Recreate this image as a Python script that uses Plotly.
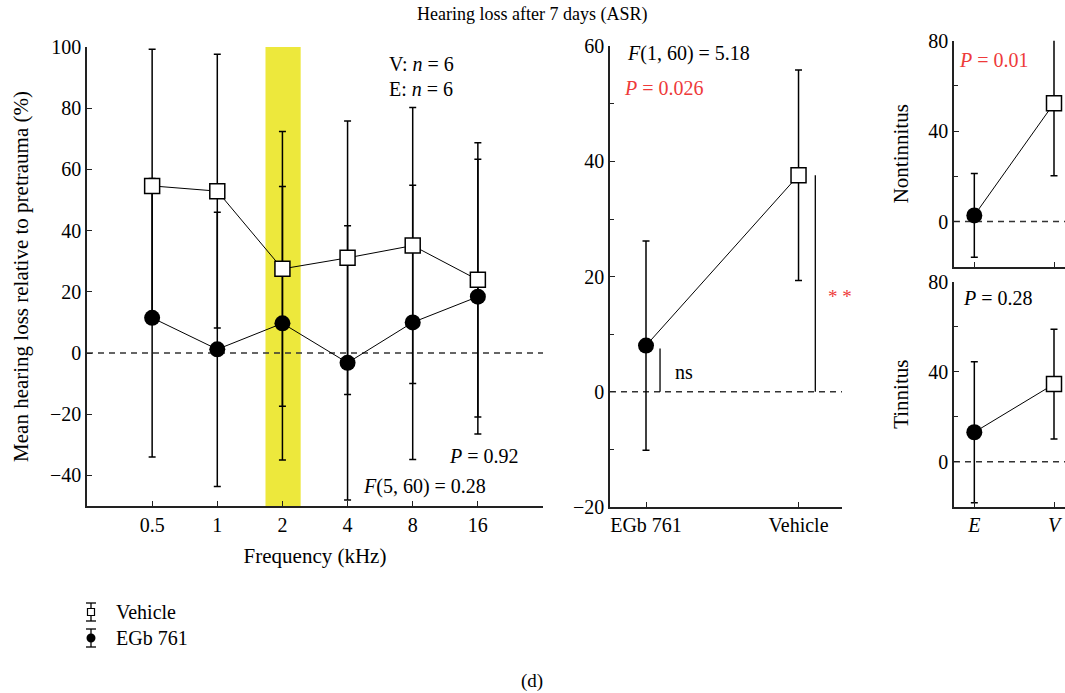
import plotly.graph_objects as go

# ---------------- data ----------------
freq_labels = ["0.5", "1", "2", "4", "8", "16"]
veh_mean = [54.6, 52.9, 27.5, 31.1, 35.1, 23.9]
veh_err = [44.7, 44.7, 44.9, 44.7, 45.1, 44.8]
egb_mean = [11.5, 1.2, 9.7, -3.2, 10.0, 18.4]
egb_err = [45.5, 44.8, 44.7, 44.8, 44.8, 44.9]

groups = ["EGb 761", "Vehicle"]
grp_mean = [8.0, 37.6]
grp_err = [18.2, 18.3]

short_groups = ["E", "V"]
nontin_mean = [2.7, 52.3]
nontin_err = [18.5, 32.1]
tin_mean = [13.1, 34.5]
tin_err = [31.3, 24.4]

W, H = 1065, 693
FONT = "Liberation Serif"
FS = 20
RED = "#ee3a3a"


def px(x):
    return x / W


def py(y):
    return 1 - y / H


sq_marker = dict(symbol="square", size=15, color="white", line=dict(color="black", width=1.5))
ci_marker = dict(symbol="circle", size=16, color="black", line=dict(color="black", width=0))
eb = lambda arr: dict(type="data", array=arr, thickness=1.5, width=3.5, color="black")
ln = dict(color="black", width=1)

fig = go.Figure()

# Left panel
fig.add_trace(go.Scatter(x=freq_labels, y=egb_mean, error_y=eb(egb_err), mode="lines+markers",
                         marker=ci_marker, line=ln, xaxis="x", yaxis="y", showlegend=False))
fig.add_trace(go.Scatter(x=freq_labels, y=veh_mean, error_y=eb(veh_err), mode="lines+markers",
                         marker=sq_marker, line=ln, xaxis="x", yaxis="y", showlegend=False))

# Middle panel
fig.add_trace(go.Scatter(x=groups, y=grp_mean, mode="lines", line=ln, xaxis="x2", yaxis="y2", showlegend=False))
fig.add_trace(go.Scatter(x=groups[:1], y=grp_mean[:1], error_y=eb(grp_err[:1]), mode="markers",
                         marker=ci_marker, xaxis="x2", yaxis="y2", showlegend=False))
fig.add_trace(go.Scatter(x=groups[1:], y=grp_mean[1:], error_y=eb(grp_err[1:]), mode="markers",
                         marker=sq_marker, xaxis="x2", yaxis="y2", showlegend=False))

# Right panels
for mean, err, xa, ya in [(nontin_mean, nontin_err, "x3", "y3"), (tin_mean, tin_err, "x4", "y4")]:
    fig.add_trace(go.Scatter(x=short_groups, y=mean, mode="lines", line=ln, xaxis=xa, yaxis=ya, showlegend=False))
    fig.add_trace(go.Scatter(x=short_groups[:1], y=mean[:1], error_y=eb(err[:1]), mode="markers",
                             marker=ci_marker, xaxis=xa, yaxis=ya, showlegend=False, cliponaxis=False))
    fig.add_trace(go.Scatter(x=short_groups[1:], y=mean[1:], error_y=eb(err[1:]), mode="markers",
                             marker=sq_marker, xaxis=xa, yaxis=ya, showlegend=False, cliponaxis=False))

axis_common = dict(showline=True, linecolor="#222", linewidth=1.5, ticks="inside", ticklen=5,
                   tickwidth=1.2, tickcolor="#222", showgrid=False, zeroline=False,
                   tickfont=dict(family=FONT, size=FS, color="black"), automargin=False)

shapes = []
# highlight band at 2 kHz
shapes.append(dict(type="rect", xref="x", yref="y domain", x0=1.74, x1=2.28, y0=0, y1=1,
                   fillcolor="#ede83c", line=dict(width=0), layer="below"))
# dashed zero lines
for xr, yr in [("x domain", "y"), ("x2 domain", "y2"), ("x3 domain", "y3"), ("x4 domain", "y4")]:
    shapes.append(dict(type="line", xref=xr, yref=yr, x0=0, x1=1, y0=0, y1=0,
                       line=dict(color="#333", width=1.5, dash="6px,5px"), layer="below"))
# significance brackets (middle panel), from 0 to group mean
shapes.append(dict(type="line", xref="x2", yref="y2", x0=0.092, x1=0.092, y0=0, y1=grp_mean[0] - 0.5,
                   line=dict(color="black", width=1.3)))
shapes.append(dict(type="line", xref="x2", yref="y2", x0=1.11, x1=1.11, y0=0, y1=grp_mean[1],
                   line=dict(color="black", width=1.3)))


# legend icons (paper coordinates)
def add_icon(cy, kind):
    top, bot = cy - 9, cy + 9
    shapes.append(dict(type="line", xref="paper", yref="paper", x0=px(91), x1=px(91), y0=py(top), y1=py(bot),
                       line=dict(color="black", width=1.3)))
    for yy in (top, bot):
        shapes.append(dict(type="line", xref="paper", yref="paper", x0=px(86), x1=px(96), y0=py(yy), y1=py(yy),
                           line=dict(color="black", width=1.3)))
    if kind == "sq":
        shapes.append(dict(type="rect", xref="paper", yref="paper", x0=px(87.5), x1=px(94.5),
                           y0=py(cy + 3.5), y1=py(cy - 3.5), fillcolor="white", line=dict(color="black", width=1.2)))
    else:
        shapes.append(dict(type="circle", xref="paper", yref="paper", x0=px(86.5), x1=px(95.5),
                           y0=py(cy + 4.5), y1=py(cy - 4.5), fillcolor="black", line=dict(color="black", width=0)))


add_icon(612, "sq")
add_icon(638, "ci")


def ann(text, x, y, xanchor="left", size=FS, color="black"):
    return dict(text=text, x=px(x), y=py(y), xref="paper", yref="paper", xanchor=xanchor, yanchor="middle",
                showarrow=False, font=dict(family=FONT, size=size, color=color))


annotations = [
    ann("Hearing loss after 7 days (ASR)", 532, 14, "center", 18),
    ann("(d)", 532, 681, "center", 19),
    ann("V: <i>n</i> = 6", 387, 64),
    ann("E: <i>n</i> = 6", 387, 89),
    ann("<i>P</i> = 0.92", 521, 456, "right"),
    ann("<i>F</i>(5, 60) = 0.28", 361, 486),
    ann("<i>F</i>(1, 60) = 5.18", 625, 53),
    ann("<i>P</i> = 0.026", 622, 88, color=RED),
    ann("ns", 673, 372),
    ann("* *", 826, 296, color=RED, size=19),
    ann("<i>P</i> = 0.01", 957, 60, color=RED),
    ann("<i>P</i> = 0.28", 961, 298),
    ann("Vehicle", 114, 612),
    ann("EGb 761", 114, 638),
]

title_font = dict(family=FONT, size=21, color="black")

fig.update_layout(
    width=W, height=H,
    margin=dict(l=0, r=0, t=0, b=0),
    paper_bgcolor="white", plot_bgcolor="rgba(0,0,0,0)",
    showlegend=False,
    shapes=shapes,
    annotations=annotations,
    xaxis=dict(axis_common, domain=[px(87), px(543)], range=[-1, 6], anchor="y",
               title=dict(text="Frequency (kHz)", font=title_font, standoff=14)),
    yaxis=dict(axis_common, domain=[py(506), py(47)], range=[-50, 100], anchor="x",
               tickvals=[-40, -20, 0, 20, 40, 60, 80, 100],
               ticktext=["\u221240", "\u221220", "0", "20", "40", "60", "80", "100"],
               title=dict(text="Mean hearing loss relative to pretrauma (%)", font=title_font, standoff=16)),
    xaxis2=dict(axis_common, domain=[px(610), px(842)], range=[-0.236, 1.285], anchor="y2"),
    yaxis2=dict(axis_common, domain=[py(506.7), py(46.4)], range=[-20, 60], anchor="x2",
                tickvals=[-20, 0, 20, 40, 60], ticktext=["\u221220", "0", "20", "40", "60"],
                minor=dict(ticks="inside", dtick=10, tick0=0, ticklen=4, tickcolor="#222", showgrid=False)),
    xaxis3=dict(axis_common, domain=[px(954), 1.0], range=[-0.255, 1.138], anchor="y3", showticklabels=False),
    yaxis3=dict(axis_common, domain=[py(266.7), py(40.7)], range=[-20, 80], anchor="x3",
                tickvals=[0, 40, 80],
                minor=dict(ticks="inside", dtick=20, tick0=0, ticklen=4, tickcolor="#222", showgrid=False),
                title=dict(text="Nontinnitus", font=title_font, standoff=14)),
    xaxis4=dict(axis_common, domain=[px(954), 1.0], range=[-0.255, 1.138], anchor="y4",
                tickvals=short_groups, ticktext=["<i>E</i>", "<i>V</i>"]),
    yaxis4=dict(axis_common, domain=[py(506.7), py(281.7)], range=[-20, 80], anchor="x4",
                tickvals=[0, 40, 80],
                minor=dict(ticks="inside", dtick=20, tick0=0, ticklen=4, tickcolor="#222", showgrid=False),
                title=dict(text="Tinnitus", font=title_font, standoff=14)),
)

# remove the default page margin so the figure fills the 1065x693 window exactly
fig.write_html("out.html", config={"displayModeBar": False},
               post_script="document.body.style.margin='0';document.documentElement.style.overflow='hidden';")
